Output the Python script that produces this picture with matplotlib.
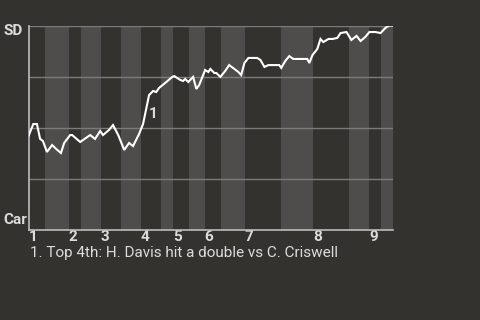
import matplotlib
matplotlib.use("Agg")
import matplotlib.pyplot as plt

# Event index (plate appearances) and San Diego win probability
events = [0, 1.2, 2.1, 2.9, 3.6, 4.6, 5.9, 6.9, 8.1, 8.9, 10.4, 10.9, 12.9, 15.4, 16.6,
          17.9, 18.6, 20.1, 21.1, 22.4, 23.9, 25.1, 26.1, 27.6, 28.6, 30.1, 31.1, 31.9,
          32.6, 34.1, 35.9, 36.4, 37.9, 38.6, 39.1, 39.9, 41.1, 41.9, 42.6, 44.1, 44.9,
          45.4, 46.4, 46.9, 47.9, 49.1, 50.1, 51.4, 52.4, 53.1, 53.9, 54.9, 57.1, 57.9,
          58.9, 59.9, 62.6, 63.1, 64.1, 65.1, 66.1, 69.6, 70.1, 70.9, 72.1, 72.9, 73.6,
          74.9, 75.9, 77.1, 77.9, 79.4, 80.6, 81.9, 82.9, 84.1, 85.1, 86.6, 87.9, 89.1,
          90.1, 91]
sd_winprob = [0.458, 0.517, 0.517, 0.444, 0.434, 0.380, 0.414, 0.395, 0.375, 0.424, 0.463,
              0.463, 0.429, 0.463, 0.444, 0.483, 0.463, 0.488, 0.512, 0.463, 0.390, 0.424,
              0.409, 0.468, 0.517, 0.659, 0.679, 0.674, 0.694, 0.718, 0.748, 0.752, 0.733,
              0.728, 0.738, 0.723, 0.748, 0.689, 0.708, 0.782, 0.772, 0.787, 0.767, 0.767,
              0.748, 0.777, 0.806, 0.787, 0.772, 0.757, 0.816, 0.841, 0.841, 0.831, 0.797,
              0.806, 0.806, 0.792, 0.826, 0.850, 0.836, 0.836, 0.816, 0.855, 0.885, 0.934,
              0.919, 0.934, 0.934, 0.939, 0.963, 0.968, 0.929, 0.949, 0.924, 0.944, 0.968,
              0.968, 0.963, 0.988, 1.0, 1.0]

# Half-inning boundaries (event index)
half_inning_edges = [0, 4, 10, 13, 18, 23, 28, 33, 36, 40, 44, 48, 54, 63, 71, 80, 85, 88, 91]
inning_labels = ["1", "2", "3", "4", "5", "6", "7", "8", "9"]

annot_label = "1"
annot_pos = (31.1, 0.566)
footnote = "1. Top 4th: H. Davis hit a double vs C. Criswell"
team_top = "SD"
team_bottom = "Car"

BG = "#34322f"
LIGHT = "#4e4d4c"
TXT = "#dcdcdc"

plt.rcParams["font.family"] = ["Roboto", "DejaVu Sans"]

fig = plt.figure(figsize=(4.8, 3.2), dpi=100, facecolor=BG)
ax = fig.add_axes([28.5 / 480, 1 - 229.5 / 320, 364.5 / 480, 204 / 320])
ax.set_facecolor(BG)

for i in range(len(half_inning_edges) - 1):
    if i % 2 == 1:
        ax.axvspan(half_inning_edges[i], half_inning_edges[i + 1], color=LIGHT, lw=0, zorder=0)

for g in [0.25, 0.5, 0.75, 1.0]:
    ax.axhline(g, color="#7c7b79", lw=1.0, zorder=1)

ax.plot(events, sd_winprob, color="white", lw=1.5, zorder=3, solid_joinstyle="miter")

ax.set_xlim(0, half_inning_edges[-1])
ax.set_ylim(0, 1)

for s in ["top", "right"]:
    ax.spines[s].set_visible(False)
for s in ["left", "bottom"]:
    ax.spines[s].set_color("#bdbdbd")
    ax.spines[s].set_linewidth(1.2)

ax.set_yticks([])
inning_starts = half_inning_edges[0::2][:9]
ax.set_xticks(inning_starts)
ax.set_xticklabels(inning_labels, ha="left", fontsize=11, fontweight="bold", color=TXT)
ax.tick_params(axis="x", length=0, pad=0.5)

ax.text(annot_pos[0], annot_pos[1], annot_label, ha="center", va="center",
        fontsize=11, fontweight="bold", color=TXT, zorder=4)

fig.text(3 / 480, 1 - 31 / 320, team_top, ha="left", va="center",
         fontsize=11, fontweight="bold", color=TXT)
fig.text(3 / 480, 1 - 220 / 320, team_bottom, ha="left", va="center",
         fontsize=11, fontweight="bold", color=TXT)
fig.text(30 / 480, 1 - 253 / 320, footnote, ha="left", va="center",
         fontsize=11, color=TXT)

fig.savefig("out.png", dpi=100, facecolor=BG)
